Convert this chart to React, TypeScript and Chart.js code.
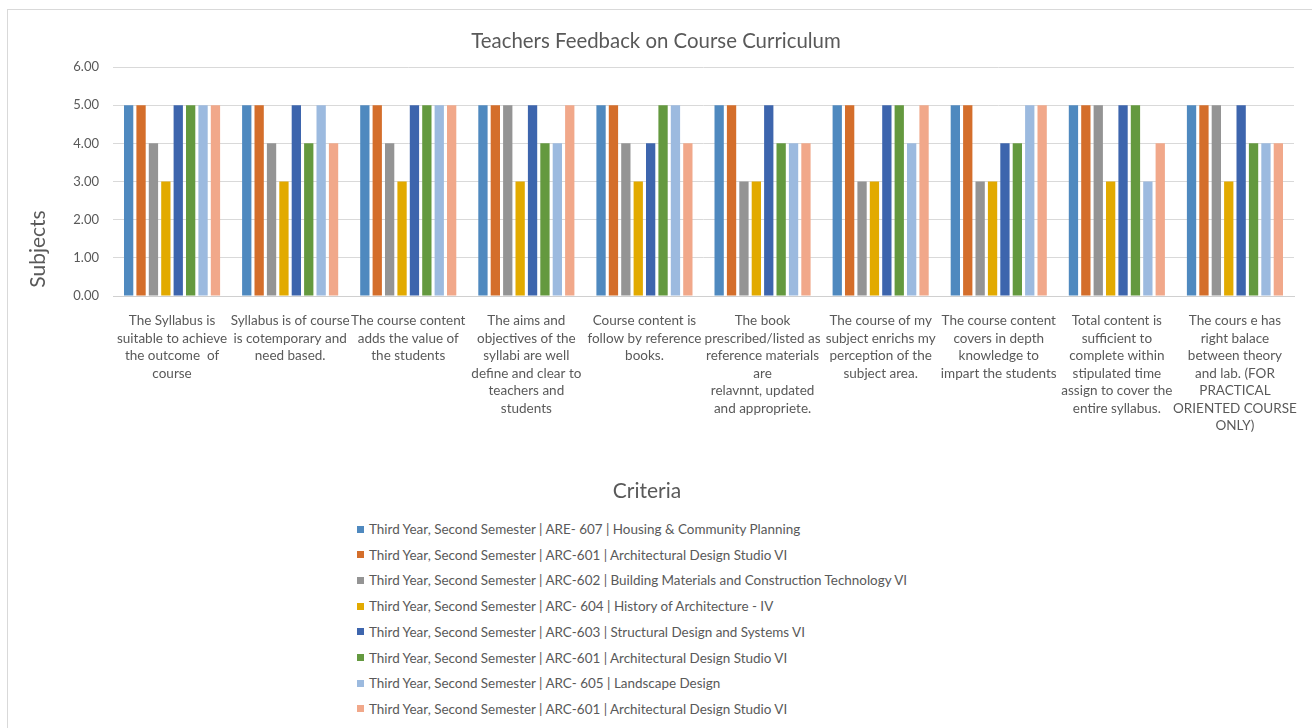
import React, { useEffect, useRef } from "react";
import { Chart, registerables } from "chart.js";

Chart.register(...registerables);

const chartTitle = "Teachers Feedback on Course Curriculum";
const yAxisTitle = "Subjects";
const xAxisTitle = "Criteria";

const categories: string[][] = [
  ["The Syllabus is", "suitable to achieve", "the outcome  of", "course"],
  ["Syllabus is of course", "is cotemporary and", "need based."],
  ["The course content", "adds the value of", "the students"],
  ["The aims and", "objectives of the", "syllabi are well", "define and clear to", "teachers and", "students"],
  ["Course content is", "follow by reference", "books."],
  ["The book", "prescribed/listed as", "reference materials", "are", "relavnnt, updated", "and appropriete."],
  ["The course of my", "subject enrichs my", "perception of the", "subject area."],
  ["The course content", "covers in depth", "knowledge to", "impart the students"],
  ["Total content is", "sufficient to", "complete within", "stipulated time", "assign to cover the", "entire syllabus."],
  ["The cours e has", "right balace", "between theory", "and lab. (FOR", "PRACTICAL", "ORIENTED COURSE", "ONLY)"],
];

const yTicks = [0, 1, 2, 3, 4, 5, 6];

const seriesNames = [
  "Third Year, Second Semester | ARE- 607 | Housing & Community Planning",
  "Third Year, Second Semester | ARC-601 | Architectural Design Studio VI",
  "Third Year, Second Semester | ARC-602 | Building Materials and Construction Technology VI",
  "Third Year, Second Semester | ARC- 604 | History of Architecture - IV",
  "Third Year, Second Semester | ARC-603 | Structural Design and Systems VI",
  "Third Year, Second Semester | ARC-601 | Architectural Design Studio VI",
  "Third Year, Second Semester | ARC- 605 | Landscape Design",
  "Third Year, Second Semester | ARC-601 | Architectural Design Studio VI",
];

const are607 = [5, 5, 5, 5, 5, 5, 5, 5, 5, 5];
const arc601a = [5, 5, 5, 5, 5, 5, 5, 5, 5, 5];
const arc602 = [4, 4, 4, 5, 4, 3, 3, 3, 5, 5];
const arc604 = [3, 3, 3, 3, 3, 3, 3, 3, 3, 3];
const arc603 = [5, 5, 5, 5, 4, 5, 5, 4, 5, 5];
const arc601b = [5, 4, 5, 4, 5, 4, 5, 4, 5, 4];
const arc605 = [5, 5, 5, 4, 5, 4, 4, 5, 3, 4];
const arc601c = [5, 4, 5, 5, 4, 4, 5, 5, 4, 4];

const seriesValues = [are607, arc601a, arc602, arc604, arc603, arc601b, arc605, arc601c];

const seriesColors = [
  "#4f89bf",
  "#d46e2b",
  "#949494",
  "#e2aa00",
  "#3d65ad",
  "#64993f",
  "#9cbadf",
  "#f1a88a",
];

const FONT = "Lato, 'Open Sans', sans-serif";
const TEXT = "#595959";

const W = 1312;
const H = 510;
const PLOT_LEFT = 113;
const PLOT_RIGHT = 1294;
const PLOT_TOP = 67;
const PLOT_BOTTOM = 296;

const titlesPlugin = {
  id: "customTitles",
  afterDraw(chart: any) {
    const ctx = chart.ctx;
    ctx.save();
    ctx.fillStyle = TEXT;
    ctx.textAlign = "center";
    ctx.textBaseline = "middle";
    ctx.font = `20.4px ${FONT}`;
    ctx.fillText(chartTitle, 656, 41);
    ctx.font = `21px ${FONT}`;
    ctx.fillText(xAxisTitle, 647, 491);
    ctx.translate(38, 249);
    ctx.rotate(-Math.PI / 2);
    ctx.font = `21px ${FONT}`;
    ctx.fillText(yAxisTitle, 0, 0);
    ctx.restore();
  },
};

export default function App() {
  const canvasRef = useRef<HTMLCanvasElement | null>(null);

  useEffect(() => {
    if (!canvasRef.current) return;
    const chart = new Chart(canvasRef.current, {
      type: "bar",
      data: {
        labels: categories,
        datasets: seriesValues.map((vals, i) => ({
          label: seriesNames[i],
          data: vals,
          backgroundColor: seriesColors[i],
          borderWidth: 0,
          categoryPercentage: 0.84,
          barPercentage: 0.75,
        })),
      },
      options: {
        animation: false,
        responsive: false,
        devicePixelRatio: 1,
        layout: {
          padding: { left: 0, right: W - PLOT_RIGHT, top: PLOT_TOP, bottom: 0 },
        },
        plugins: {
          legend: { display: false },
          title: { display: false },
          tooltip: { enabled: false },
        },
        scales: {
          x: {
            grid: { display: false },
            border: { display: true, color: "#d0d0d0", width: 1 },
            ticks: {
              autoSkip: false,
              maxRotation: 0,
              minRotation: 0,
              padding: 8,
              color: TEXT,
              font: { family: FONT, size: 13.5, lineHeight: "17.5px" as any },
            },
            afterFit(scale: any) {
              scale.height = H - PLOT_BOTTOM;
            },
          },
          y: {
            min: 0,
            max: 6,
            afterBuildTicks(scale: any) {
              scale.ticks = yTicks.map((v) => ({ value: v }));
            },
            grid: {
              color: (c: any) => (c.tick && c.tick.value === 0 ? "#d0d0d0" : "#d9d9d9"),
              lineWidth: 1,
              drawTicks: false,
            },
            border: { display: false },
            ticks: {
              padding: 14,
              color: TEXT,
              font: { family: FONT, size: 13 },
              callback: (v: any) => Number(v).toFixed(2),
            },
            afterFit(scale: any) {
              scale.width = PLOT_LEFT;
            },
          },
        },
      },
      plugins: [titlesPlugin],
    });
    return () => chart.destroy();
  }, []);

  const legendTop = 529;
  const legendStep = 25.71;

  return (
    <div style={{ position: "fixed", left: 0, top: 0, width: W, height: 728, overflow: "hidden", background: "#fff" }}>
      <div
        style={{
          position: "absolute",
          left: 7,
          top: 9,
          width: 1400,
          height: 800,
          border: "1px solid #d9d9d9",
          boxSizing: "border-box",
        }}
      />
      <canvas
        ref={canvasRef}
        width={W}
        height={H}
        style={{ position: "absolute", left: 0, top: 0, width: W, height: H }}
      />
      {seriesNames.map((name, i) => (
        <div
          key={i}
          style={{
            position: "absolute",
            left: 357,
            top: legendTop + i * legendStep - 10,
            height: 20,
            lineHeight: "20px",
            whiteSpace: "nowrap",
            fontFamily: FONT,
            fontSize: 13.45,
            color: TEXT,
            display: "flex",
            alignItems: "center",
          }}
        >
          <span
            style={{
              display: "inline-block",
              width: 7,
              height: 7,
              background: seriesColors[i],
              marginRight: 5,
            }}
          />
          <span>{name}</span>
        </div>
      ))}
    </div>
  );
}
